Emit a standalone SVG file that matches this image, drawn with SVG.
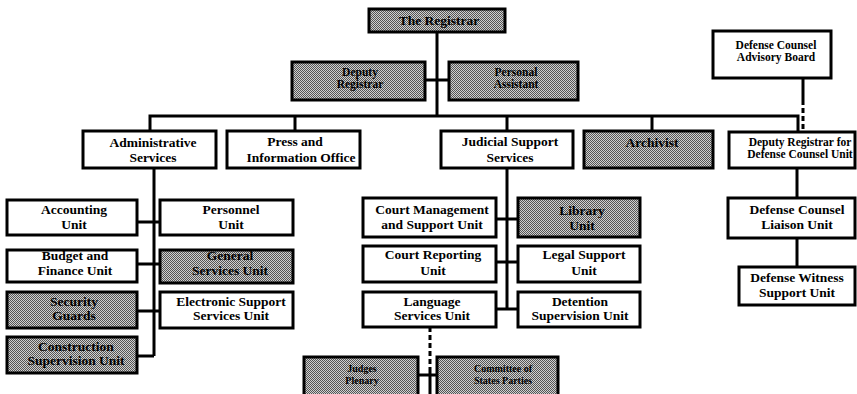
<svg xmlns="http://www.w3.org/2000/svg" width="857" height="394" viewBox="0 0 857 394">
<defs>
<pattern id="dither" width="2" height="2" patternUnits="userSpaceOnUse">
<rect width="2" height="2" fill="#d0d0d0"/>
<rect x="0" y="0" width="1" height="1" fill="#555"/>
<rect x="1" y="1" width="1" height="1" fill="#555"/>
</pattern>
</defs>
<style>
.box{fill:#fff;stroke:#000;stroke-width:3}
.gray{fill:url(#dither);stroke:#000;stroke-width:3}
.ln{fill:none;stroke:#000;stroke-width:3}
.dash{fill:none;stroke:#000;stroke-width:3;stroke-dasharray:5 3}
text{font-family:"Liberation Serif","Times New Roman",serif;font-weight:bold;font-size:13.5px;text-anchor:middle;fill:#000}
.s{font-size:11.5px}
.xs{font-size:10px}
</style>
<rect width="857" height="394" fill="#fff"/>
<g id="connectors">
<path class="ln" d="M437 32V116M425 80H449"/>
<path class="ln" d="M150 131V116H798V132M295 116V131M507 116V131M652 116V131"/>
<path class="ln" d="M803 78V100"/>
<path class="dash" d="M803 100V132"/>
<path class="ln" d="M154 168V356M137 222H160M137 264H160M137 311H160M137 356H154"/>
<path class="ln" d="M507 168V309M496 219H518M496 262H518M496 309H518"/>
<path class="dash" d="M430 327V372"/>
<path class="ln" d="M430 372V394M418 375H437"/>
<path class="ln" d="M797 168V198M797 238V267"/>
</g>
<g id="registrar"><rect class="gray" x="369" y="9" width="136" height="23"/><text x="439" y="25">The Registrar</text></g>
<g id="deputy-registrar"><rect class="gray" x="292" y="62" width="133" height="38"/><text class="s" x="360" y="76">Deputy</text><text class="s" x="360" y="88">Registrar</text></g>
<g id="personal-assistant"><rect class="gray" x="449" y="62" width="129" height="38"/><text class="s" x="516" y="76">Personal</text><text class="s" x="516" y="88">Assistant</text></g>
<g id="advisory-board"><rect class="box" x="713" y="31" width="118" height="47"/><text class="s" x="776" y="49">Defense Counsel</text><text class="s" x="776" y="61">Advisory Board</text></g>
<g id="administrative-services"><rect class="box" x="83" y="131" width="133" height="37"/><text x="153" y="147">Administrative</text><text x="153" y="162">Services</text></g>
<g id="press-office"><rect class="box" x="227" y="131" width="133" height="37"/><text x="295" y="146">Press and</text><text x="301" y="162">Information Office</text></g>
<g id="judicial-support"><rect class="box" x="441" y="131" width="132" height="37"/><text x="510" y="146">Judicial Support</text><text x="510" y="162">Services</text></g>
<g id="archivist"><rect class="gray" x="584" y="131" width="129" height="37"/><text x="652" y="147">Archivist</text></g>
<g id="deputy-defense"><rect class="box" x="729" y="132" width="126" height="36"/><text class="s" x="800" y="146">Deputy Registrar for</text><text class="s" x="800" y="158">Defense Counsel Unit</text></g>
<g id="accounting"><rect class="box" x="7" y="200" width="130" height="35"/><text x="74" y="214">Accounting</text><text x="74" y="229">Unit</text></g>
<g id="personnel"><rect class="box" x="160" y="200" width="133" height="35"/><text x="231" y="214">Personnel</text><text x="231" y="229">Unit</text></g>
<g id="budget"><rect class="box" x="7" y="250" width="130" height="32"/><text x="75" y="260">Budget and</text><text x="75" y="275">Finance Unit</text></g>
<g id="general-services"><rect class="gray" x="160" y="250" width="133" height="33"/><text x="230" y="260">General</text><text x="230" y="275">Services Unit</text></g>
<g id="security"><rect class="gray" x="7" y="292" width="130" height="36"/><text x="74" y="306">Security</text><text x="74" y="320">Guards</text></g>
<g id="electronic-support"><rect class="box" x="160" y="292" width="133" height="36"/><text x="231" y="306">Electronic Support</text><text x="231" y="320">Services Unit</text></g>
<g id="construction"><rect class="gray" x="7" y="337" width="130" height="36"/><text x="76" y="351">Construction</text><text x="76" y="365">Supervision Unit</text></g>
<g id="court-management"><rect class="box" x="363" y="198" width="133" height="39"/><text x="432" y="214">Court Management</text><text x="432" y="229">and Support Unit</text></g>
<g id="library"><rect class="gray" x="518" y="198" width="122" height="39"/><text x="582" y="215">Library</text><text x="582" y="230">Unit</text></g>
<g id="court-reporting"><rect class="box" x="363" y="246" width="133" height="36"/><text x="433" y="259">Court Reporting</text><text x="433" y="275">Unit</text></g>
<g id="legal-support"><rect class="box" x="518" y="246" width="122" height="36"/><text x="584" y="259">Legal Support</text><text x="584" y="275">Unit</text></g>
<g id="language-services"><rect class="box" x="363" y="292" width="133" height="35"/><text x="432" y="306">Language</text><text x="432" y="320">Services Unit</text></g>
<g id="detention"><rect class="box" x="518" y="292" width="122" height="35"/><text x="580" y="306">Detention</text><text x="580" y="320">Supervision Unit</text></g>
<g id="judges-plenary"><rect class="gray" x="304" y="357" width="114" height="42"/><text class="xs" x="362" y="372">Judges</text><text class="xs" x="362" y="384">Plenary</text></g>
<g id="committee"><rect class="gray" x="437" y="357" width="121" height="42"/><text class="xs" x="503" y="372">Committee of</text><text class="xs" x="503" y="384">States Parties</text></g>
<g id="defense-liaison"><rect class="box" x="728" y="198" width="127" height="40"/><text x="797" y="214">Defense Counsel</text><text x="797" y="229">Liaison Unit</text></g>
<g id="defense-witness"><rect class="box" x="739" y="267" width="116" height="38"/><text x="797" y="282">Defense Witness</text><text x="797" y="297">Support Unit</text></g>
</svg>
